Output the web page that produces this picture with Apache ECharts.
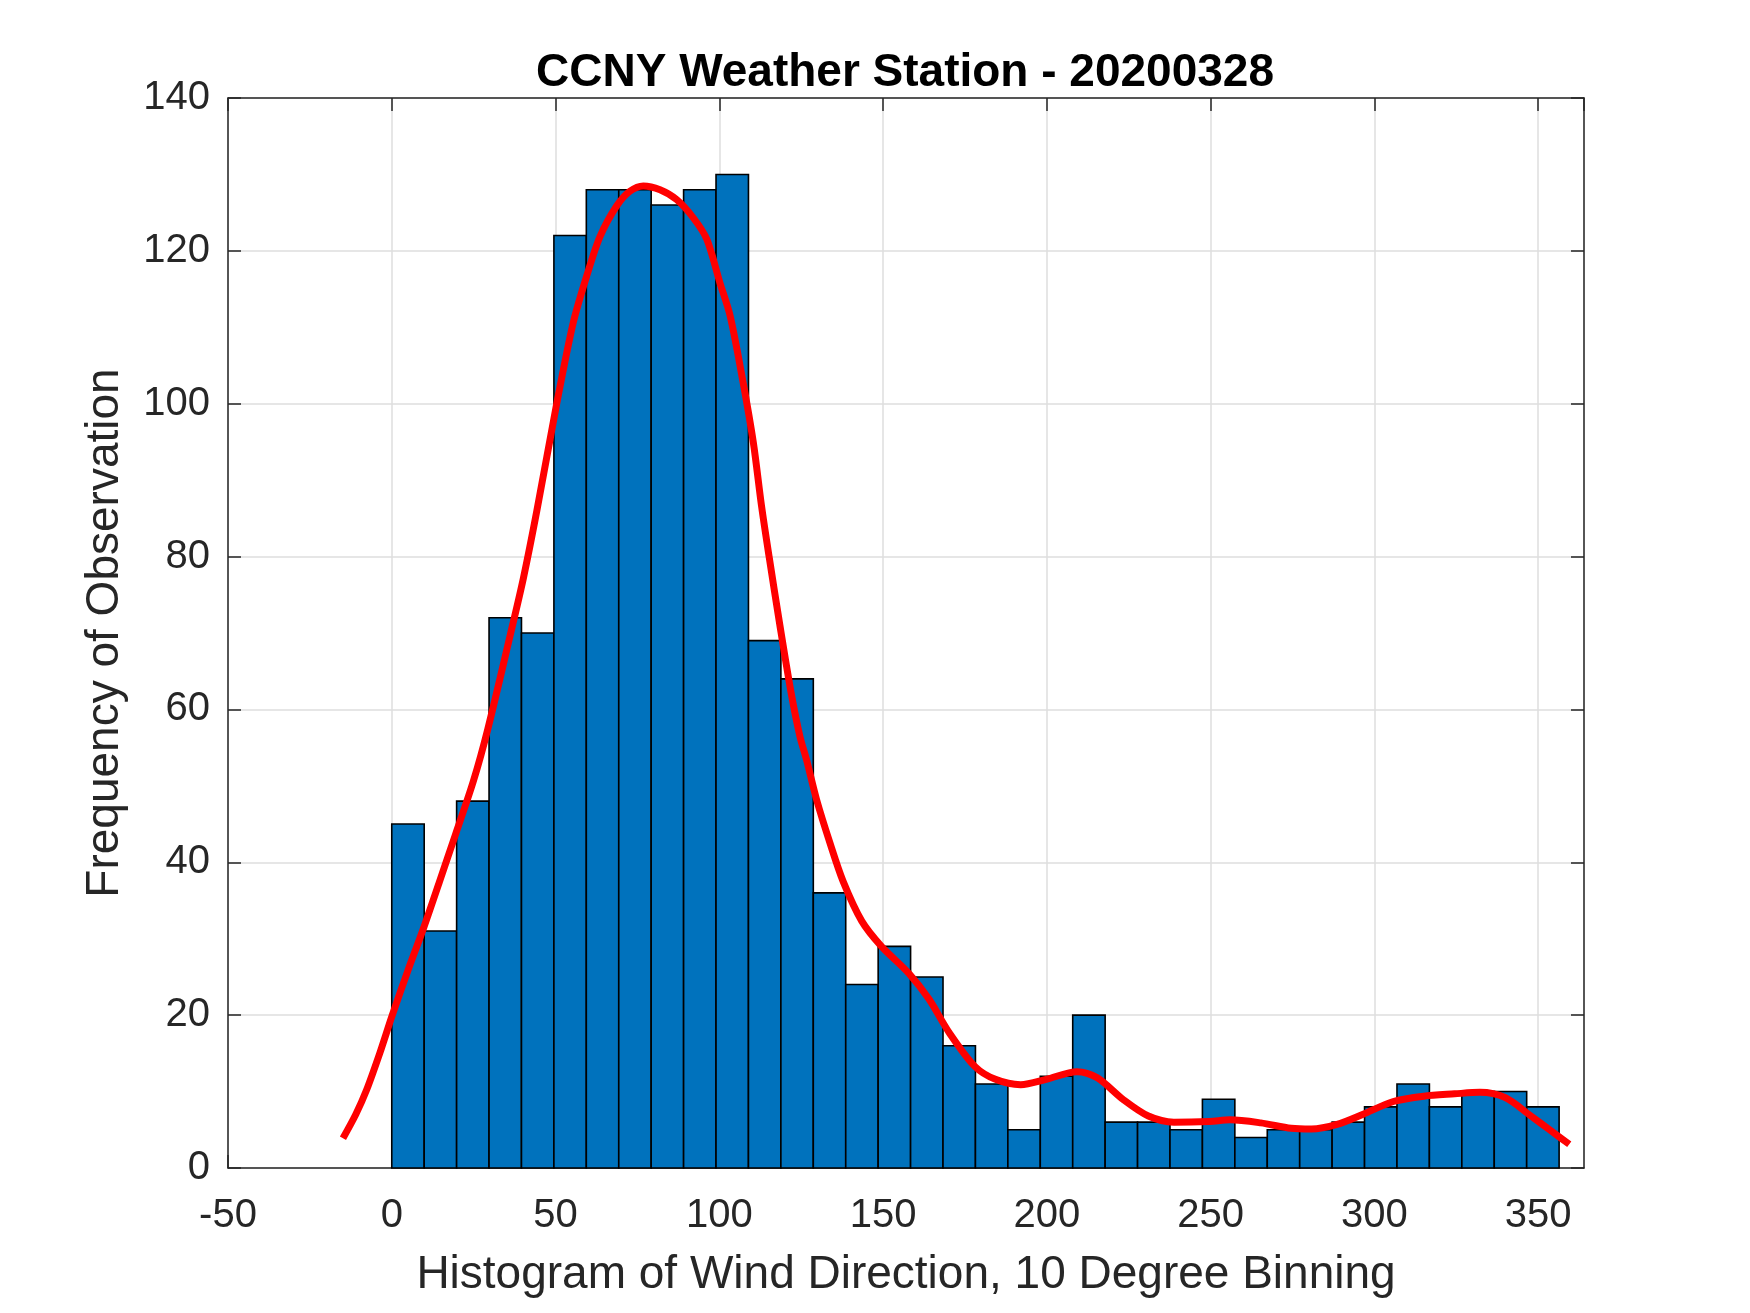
<!DOCTYPE html>
<html>
<head>
<meta charset="utf-8">
<script src="https://cdn.jsdelivr.net/npm/echarts@6/dist/echarts.min.js"></script>
<style>
html,body{margin:0;padding:0;background:#fff;}
#chart{width:1750px;height:1313px;}
</style>
</head>
<body>
<div id="chart"></div>
<script>
// Histogram: 36 bins starting at 0, width ~9.9 degrees
const binStart = 0;
const binWidth = 9.9;
const counts = [45, 31, 48, 72, 70, 122, 128, 128, 126, 128, 130, 69, 64, 36, 24, 29, 25, 16, 11, 5,
                12, 20, 6, 6, 5, 9, 4, 5, 5, 6, 8, 11, 8, 10, 10, 8];

// Smoothed (kernel density) curve
const curveX = [-14.9, -11, -7.7, -3.6, 0, 4.9, 9.8, 14.6, 19.5, 24.9, 29.3, 36.1, 40.2, 44.3, 50.4,
                55.4, 59.5, 63.6, 68.7, 72.7, 76.8, 81.9, 87, 92.1, 96.2, 100.2, 103.3, 107.3, 110.4, 112.9,
                115.2, 118.5, 122, 124.6, 126.7, 129.7, 133.8, 137.8, 143.5, 149.5, 157.8, 164, 170.2, 178,
                184.3, 192, 199.8, 209.2, 215.4, 223.2, 231, 238.8, 249.7, 255.9, 265.3, 274.6, 280.8, 288.6,
                296.4, 305.8, 315.1, 324.5, 332.2, 340, 347.8, 353.5, 359.5];
const curveY = [3.9, 7, 10.2, 15.1, 19.8, 25.8, 31.5, 37.5, 43.7, 50.6, 57.4, 69.6, 77.2, 86, 100.1,
                110.6, 116.7, 121.9, 125.9, 127.8, 128.5, 128.0, 126.7, 124.3, 121.5, 115.8, 111.5, 102.7, 94.9, 86.6,
                80, 71, 62, 56.5, 53.3, 48.2, 42.5, 37.5, 32.3, 29, 25.5, 22.1, 17.7, 13.3,
                11.6, 10.9, 11.6, 12.6, 11.8, 9.0, 6.8, 6.0, 6.1, 6.3, 5.9, 5.2, 5.1, 5.7,
                7.0, 8.7, 9.4, 9.7, 9.9, 9.2, 6.8, 5.0, 3.1];

const xTicks = {min: -50, max: 364, interval: 50};
const yTicks = {min: 0, max: 140, interval: 20};

const titleText = 'CCNY Weather Station - 20200328';
const xLabel = 'Histogram of Wind Direction, 10 Degree Binning';
const yLabel = 'Frequency of Observation';

const barData = counts.map((c, i) => [binStart + i * binWidth, binStart + (i + 1) * binWidth, c]);
const curveData = curveX.map((x, i) => [x, curveY[i]]);

const axisColor = '#262626';
const font = 'Liberation Sans, Arial, Helvetica, sans-serif';

const chart = echarts.init(document.getElementById('chart'));
chart.setOption({
  backgroundColor: '#ffffff',
  animation: false,
  title: {
    text: titleText,
    left: 900,
    top: 45,
    textAlign: 'center',
    textStyle: {fontFamily: font, fontSize: 46, fontWeight: 'bold', color: '#000'}
  },
  grid: {left: 228, right: 166, top: 98, bottom: 145, containLabel: false},
  xAxis: [{
    type: 'value', position: 'bottom',
    min: xTicks.min, max: xTicks.max, interval: xTicks.interval,
    name: xLabel, nameLocation: 'middle', nameGap: 84,
    nameTextStyle: {fontFamily: font, fontSize: 46, color: axisColor},
    axisLine: {show: true, onZero: false, lineStyle: {color: axisColor, width: 1.5}},
    axisTick: {show: true, inside: true, length: 13, lineStyle: {color: axisColor, width: 1.5}},
    axisLabel: {fontFamily: font, fontSize: 40, color: axisColor, margin: 28, showMaxLabel: false},
    splitLine: {show: true, lineStyle: {color: '#dedede', width: 1.5}}
  }, {
    type: 'value', position: 'top',
    min: xTicks.min, max: xTicks.max, interval: xTicks.interval,
    axisLine: {show: true, onZero: false, lineStyle: {color: axisColor, width: 1.5}},
    axisTick: {show: true, inside: true, length: 13, lineStyle: {color: axisColor, width: 1.5}},
    axisLabel: {show: false},
    splitLine: {show: false}
  }],
  yAxis: [{
    type: 'value', position: 'left',
    min: yTicks.min, max: yTicks.max, interval: yTicks.interval,
    name: yLabel, nameLocation: 'middle', nameGap: 100,
    nameTextStyle: {fontFamily: font, fontSize: 46, color: axisColor},
    axisLine: {show: true, onZero: false, lineStyle: {color: axisColor, width: 1.5}},
    axisTick: {show: true, inside: true, length: 13, lineStyle: {color: axisColor, width: 1.5}},
    axisLabel: {fontFamily: font, fontSize: 40, color: axisColor, margin: 18},
    splitLine: {show: true, lineStyle: {color: '#dedede', width: 1.5}}
  }, {
    type: 'value', position: 'right',
    min: yTicks.min, max: yTicks.max, interval: yTicks.interval,
    axisLine: {show: true, onZero: false, lineStyle: {color: axisColor, width: 1.5}},
    axisTick: {show: true, inside: true, length: 13, lineStyle: {color: axisColor, width: 1.5}},
    axisLabel: {show: false},
    splitLine: {show: false}
  }],
  series: [{
    type: 'custom',
    xAxisIndex: 0, yAxisIndex: 0,
    data: barData,
    encode: {x: [0, 1], y: 2},
    z: 2,
    renderItem: function (params, api) {
      const p0 = api.coord([api.value(0), api.value(2)]);
      const p1 = api.coord([api.value(1), 0]);
      return {
        type: 'rect',
        shape: {x: p0[0], y: p0[1], width: p1[0] - p0[0], height: p1[1] - p0[1]},
        style: {fill: '#0072BD', stroke: '#000000', lineWidth: 1.6}
      };
    }
  }, {
    type: 'line',
    xAxisIndex: 0, yAxisIndex: 0,
    data: curveData,
    showSymbol: false,
    symbol: 'none',
    smooth: 0.3,
    z: 5,
    lineStyle: {color: '#ff0000', width: 7, cap: 'butt', join: 'round'}
  }]
});
</script>
</body>
</html>
